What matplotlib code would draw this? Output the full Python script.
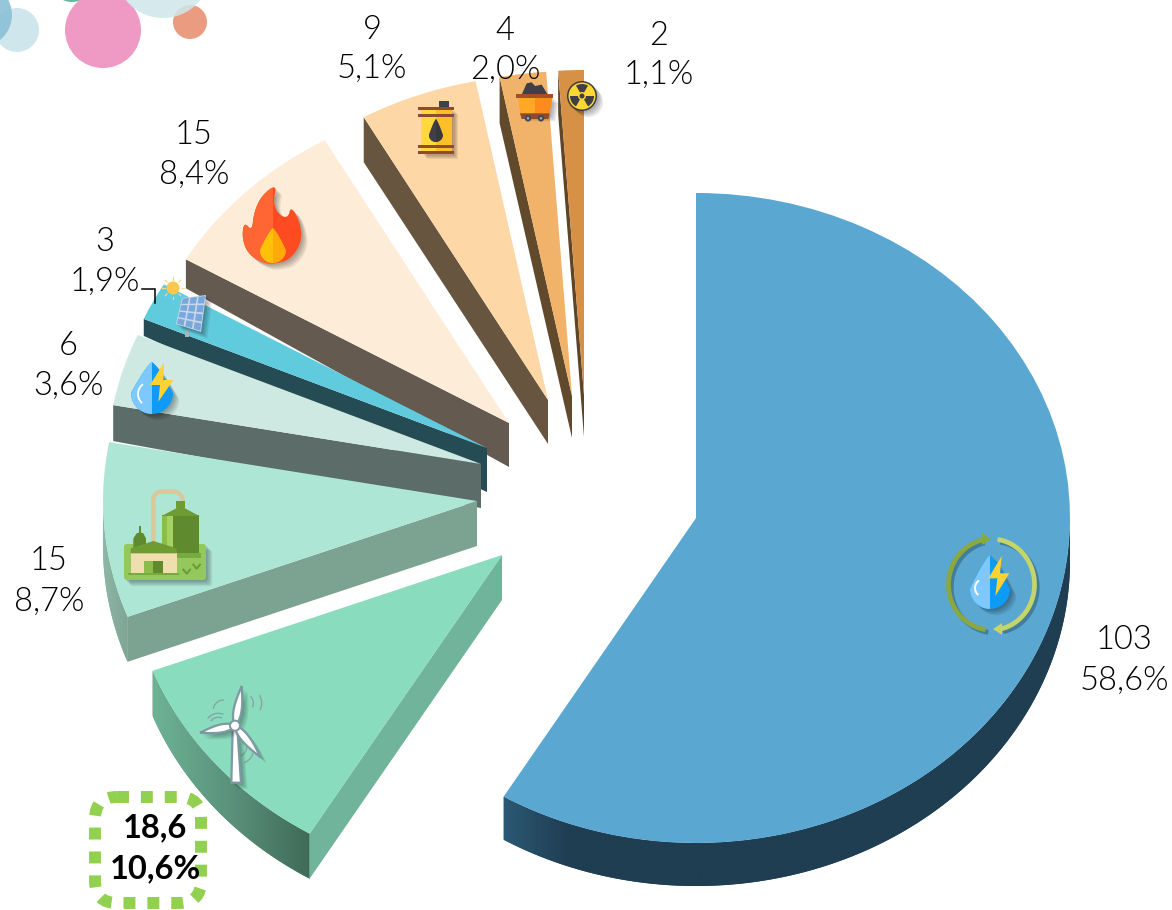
import numpy as np
import matplotlib
matplotlib.use("Agg")
import matplotlib.pyplot as plt
import matplotlib.patheffects as pe
from matplotlib.patches import Circle, FancyBboxPatch, Polygon, Rectangle, Wedge
from matplotlib.colors import to_rgb

# ---------- data ----------
sources = ["Hydro", "Wind", "Biomass", "Small hydro", "Solar", "Gas", "Oil", "Coal", "Nuclear"]
capacity = ["103", "18,6", "15", "6", "3", "15", "9", "4", "2"]
share = [58.6, 10.6, 8.7, 3.6, 1.9, 8.4, 5.1, 2.0, 1.1]
share_labels = ["58,6%", "10,6%", "8,7%", "3,6%", "1,9%", "8,4%", "5,1%", "2,0%", "1,1%"]

# ---------- styles / layout ----------
W, H = 1172, 910
CX, CY, RX, RY = 696, 518, 374, 325
face_colors = ["#5aa7d2", "#89dcbd", "#aee6d5", "#cde9e1", "#60cbdc", "#fdecd8", "#fdd7a6", "#f1b36a", "#d69146"]
wall_colors = [None, "#70b59b", "#7ca392", "#5c6c68", "#254c55", "#645a50", "#675540", "#614a2b", "#5e4526"]
apex_px = [(696, 518), (502, 555), (477, 501), (481, 464), (487, 448), (509, 423), (548, 400), (572, 396), (584, 395)]
depth_apex = [45, 45, 45, 44, 44, 44, 44, 42, 42]
depth_outer = [43, 45, 45, 36, 17, 29, 45, 46, 44]
z_order = [9, 8, 7, 6, 5, 4, 3, 2, 1]
arc_stops = {0: ["#2b5873", "#1f3e52", "#1f3e52", "#1f3e52", "#1f3e52", "#1f3e52", "#1f3e52", "#1f3e52", "#1f3e52", "#1f3e52"],
             1: ["#6db396", "#5a917a", "#3f6a58"],
             2: ["#8eb8a8", "#86ad9d", "#7fa595"]}
label_pos = [(1124, 640, 681), (155, 828, 869), (49, 561, 602), (68, 346, 386), (105, 242, 282),
             (194, 135, 175), (372, 30, 69), (505, 31, 70), (659, 36, 75)]

plt.rcParams["font.family"] = ["Lato", "DejaVu Sans"]
fig = plt.figure(figsize=(W / 100, H / 100), dpi=100, facecolor="white")

# ---------- pie (1 data unit = the ellipse radius) ----------
ax = fig.add_axes([0, 0, 1, 1])
wedges, _ = ax.pie(share, colors=face_colors, startangle=90, counterclock=False, radius=1,
                   wedgeprops=dict(linewidth=0))
ax.set_aspect("auto")
XL = ((0 - CX) / RX, (W - CX) / RX)
YL = ((CY - H) / RY, (CY - 0) / RY)


def gradient(stops):
    rgb = np.array([to_rgb(c) for c in stops])
    pos = np.linspace(0, 1, len(stops))
    s = np.linspace(0, 1, 256)
    return np.dstack([np.interp(s, pos, rgb[:, k]) for k in range(3)])


for i, w in enumerate(wedges):
    ox = (apex_px[i][0] - CX) / RX
    oy = (CY - apex_px[i][1]) / RY
    w.set_center((ox, oy))
    w.set_zorder(z_order[i] + 0.5)
    da, do = depth_apex[i] / RY, depth_outer[i] / RY
    # radial wall along the clockwise-start edge of the slice
    if wall_colors[i]:
        t = np.radians(w.theta2)
        px, py = ox + np.cos(t), oy + np.sin(t)
        ax.add_patch(Polygon([(ox, oy), (px, py), (px, py - do), (ox, oy - da)], closed=True,
                             facecolor=wall_colors[i], edgecolor="none", zorder=z_order[i] + 0.2))
    # outer curved wall on the lower half of the ellipse, shaded along x
    if i in arc_stops:
        th = np.radians(np.linspace(w.theta1, w.theta2, 240))
        th = th[np.sin(th) <= 0.001]
        xs, ys = ox + np.cos(th), oy + np.sin(th)
        pts = np.r_[np.c_[xs, ys], np.c_[xs[::-1], ys[::-1] - do]]
        base = Polygon(pts, closed=True, facecolor=arc_stops[i][len(arc_stops[i]) // 2], edgecolor="none",
                       zorder=z_order[i] + 0.05)
        ax.add_patch(base)
        im = ax.imshow(gradient(arc_stops[i]), extent=(xs.min(), xs.max(), ys.min() - do, ys.max()),
                       aspect="auto", zorder=z_order[i] + 0.1, interpolation="bilinear")
        clip = Polygon(pts, closed=True, transform=ax.transData)
        im.set_clip_path(clip)
ax.set_xlim(*XL)
ax.set_ylim(*YL)
ax.set_aspect("auto")
ax.axis("off")

# ---------- overlay in pixel coordinates ----------
ov = fig.add_axes([0, 0, 1, 1], facecolor="none")
ov.set_xlim(0, W)
ov.set_ylim(H, 0)
ov.axis("off")

SH = [pe.SimplePatchShadow(offset=(d, -d), shadow_rgbFace="k", alpha=0.07) for d in (4.5, 3.6, 2.7, 1.8, 1.0)] + [pe.Normal()]


def smooth(pts, n=2):
    p = np.asarray(pts, float)
    for _ in range(n):
        q = np.roll(p, -1, axis=0)
        p = np.c_[0.75 * p + 0.25 * q, 0.25 * p + 0.75 * q].reshape(-1, 2)
    return p


def poly(pts, color, z=20, shadow=False, clip=None, **kw):
    p = Polygon(pts, closed=True, facecolor=color, edgecolor="none", zorder=z, **kw)
    ov.add_patch(p)
    if shadow:
        p.set_path_effects(SH)
    if clip is not None:
        r = Rectangle((clip[0], clip[1]), clip[2], clip[3], transform=ov.transData)
        p.set_clip_path(r)
    return p


def rect(x0, y0, x1, y1, color, z=20):
    return poly([(x0, y0), (x1, y0), (x1, y1), (x0, y1)], color, z)


def drop_pts(cx, cy, r, top):
    ys = np.linspace(top, cy, 30)
    hw = r * ((ys - top) / (cy - top)) ** 0.8
    a = np.linspace(0, np.pi, 40)
    return np.r_[np.c_[cx + hw, ys], np.c_[cx + r * np.cos(a), cy + r * np.sin(a)], np.c_[cx - hw[::-1], ys[::-1]]]


def drop(cx, cy, r, top, cl, cr, z=20, shadow=True):
    pts = drop_pts(cx, cy, r, top)
    poly(pts, cr, z, shadow=shadow)
    poly(pts, cl, z + 0.1, clip=(cx - 2 * r, top - 2, 2 * r, 3 * (cy - top + r)))


def tr(ox, oy, pts, s=3.0):
    return [(ox + a / s, oy + b / s) for a, b in pts]


# decorative circles
for (x, y, r, c, a, z) in [(72, -20, 22, "#64b99b", 1, 1), (17, 30, 22, "#cfe7ec", 1, 1), (-20, 15, 32, "#8fc3d8", 0.95, 2),
                           (103, 30, 38, "#ee9ac5", 1, 2), (190, 22, 17, "#eb9c80", 1, 1),
                           (163, -30, 48, "#cfe7ec", 0.85, 2)]:
    ov.add_patch(Circle((x, y), r, facecolor=c, alpha=a, edgecolor="none", zorder=z))

# hydro icon (large slice)
drop(990, 589, 20, 555, "#7cc8ff", "#0d9bf5")
poly(tr(920, 510, [(245, 138), (205, 205), (232, 205), (226, 258), (268, 190), (240, 190)]), "#ffd233", 21)
a = np.radians(np.linspace(130, 225, 15))
ov.plot(984 + 9 * np.cos(a), 588 - 9 * np.sin(a), color="white", lw=1.4, zorder=22)
for ang, col in [(np.linspace(103, 262, 60), "#8aa83f"), (np.linspace(82, -78, 60), "#c4d56a")]:
    t = np.radians(ang)
    line = ov.plot(991.5 + 43 * np.cos(t), 584.5 - 45.5 * np.sin(t), color=col, lw=3.4, zorder=20,
                   solid_capstyle="butt")[0]
    line.set_path_effects([pe.SimpleLineShadow(offset=(2, -2), alpha=0.25), pe.Normal()])
poly([(982, 533), (982, 545), (991, 539)], "#8aa83f", 21)
poly([(1002, 623), (1002, 635), (993, 629)], "#c4d56a", 21)

# wind turbine
TF, TE = "white", "#7d99a3"
ov.add_patch(Polygon(tr(70, 660, [(488, 205), (502, 205), (513, 368), (484, 368)]), closed=True, facecolor=TF,
                     edgecolor=TE, lw=1.6, zorder=20, path_effects=SH))
for bx, by in [(515, 78), (390, 218), (572, 292)]:
    hx, hy = 495, 197
    d = np.array([bx - hx, by - hy], float)
    n = np.array([-d[1], d[0]]) / np.hypot(*d)
    s = np.linspace(0, 1, 24)
    wd = 12 * np.sin(np.pi * s ** 0.7)
    up = np.c_[hx + d[0] * s + n[0] * wd, hy + d[1] * s + n[1] * wd]
    lo = np.c_[hx + d[0] * s - n[0] * wd, hy + d[1] * s - n[1] * wd]
    ov.add_patch(Polygon(tr(70, 660, np.r_[up, lo[::-1]].tolist()), closed=True, facecolor=TF, edgecolor=TE,
                         lw=1.6, zorder=21, path_effects=SH))
ov.add_patch(Circle((70 + 495 / 3, 660 + 197 / 3), 5, facecolor="white", edgecolor=TE, lw=1.4, zorder=22))
for cx0, cy0, r0, a0, a1 in [(445, 200, 40, 70, 140), (445, 200, 28, 70, 140), (460, 150, 30, 90, 170),
                             (520, 130, 30, -20, 40), (530, 130, 45, -25, 30), (500, 260, 30, -60, 20), (510, 270, 40, -70, -10)]:
    t = np.radians(np.linspace(a0, a1, 20))
    ov.plot(70 + (cx0 + r0 * np.cos(t)) / 3, 660 + (cy0 - r0 * np.sin(t)) / 3, color="#8aa5a5", lw=1.0, zorder=19)

# biomass plant (zoom coordinates -> px)
B = lambda pts: tr(90, 470, pts)
ov.add_patch(FancyBboxPatch((124, 544), 82, 36, boxstyle="round,pad=0,rounding_size=3", facecolor="#93c85c",
                            edgecolor="none", zorder=20, path_effects=SH))
t = np.linspace(0, np.pi / 2, 20)
pipe_x = np.r_[[190, 190], 215 - 25 * np.cos(t), 250 + 28 * np.sin(t)]
pipe_y = np.r_[[215, 90], 90 - 25 * np.sin(t), 65 + 27 * (1 - np.cos(t))]
ov.plot(90 + pipe_x / 3, 470 + pipe_y / 3, color="#dcc79b", lw=3.2, zorder=20.5)
poly(B([(258, 92), (285, 92), (285, 115), (258, 115)]), "#6f9b33", 21)
poly(B([(215, 135), (328, 135), (328, 262), (215, 262)]), "#5f8a2d", 21)
poly(B([(215, 138), (250, 138), (250, 262), (215, 262)]), "#8bbd4a", 21.1)
poly(B([(232, 138), (250, 138), (250, 250), (232, 250)]), "#a6d163", 21.2)
poly(B([(215, 138), (272, 108), (328, 138)]), "#6f9b33", 21.3)
poly(B([(215, 250), (332, 250), (332, 265), (215, 265)]), "#7aa93f", 21.3)
poly(B([(130, 240), (130, 205), (140, 190), (147, 188), (147, 168), (153, 168), (153, 188), (160, 190), (168, 205), (168, 240)]), "#5f8a2d", 21)
poly(B([(122, 250), (260, 250), (260, 310), (122, 310)]), "#f0dfae", 21.5)
poly(B([(122, 250), (122, 235), (190, 213), (260, 235), (260, 250)]), "#6f9b33", 21.6)
poly(B([(162, 272), (220, 272), (220, 310), (162, 310)]), "#8bbd4a", 21.6)
poly(B([(190, 272), (220, 272), (220, 310), (190, 310)]), "#5f8a2d", 21.7)
poly(B([(114, 309), (268, 309), (268, 316), (114, 316)]), "#7aa93f", 21.8)
for vx, vy in [(290, 305), (320, 290)]:
    xs = np.array([vx - 10, vx, vx + 10])
    ys = np.array([vy - 6, vy + 6, vy - 6])
    ov.plot(90 + xs / 3, 470 + ys / 3, color="#6f9b33", lw=1.5, zorder=21)

# small hydro
drop(152, 393, 21, 362, "#7cc8ff", "#0d9bf5")
poly(tr(0, 220, [(492, 428), (450, 495), (480, 495), (475, 545), (520, 480), (490, 480)]), "#ffd233", 21)
a = np.radians(np.linspace(130, 225, 15))
ov.plot(150 + 12 * np.cos(a), 394 - 12 * np.sin(a), color="white", lw=1.3, zorder=22)

# solar
corners = np.array([(182, 298), (206, 295), (201, 332), (176, 324)], float)
poly(tr(0, 220, [(555, 330), (568, 330), (568, 350), (555, 350)]), "#a9b4bd", 19)
poly(corners, "#c8d9ec", 20, shadow=True)


def bil(u, v):
    return (1 - v) * ((1 - u) * corners[0] + u * corners[1]) + v * ((1 - u) * corners[3] + u * corners[2])


for cu in range(3):
    for cv in range(4):
        u0, u1 = (cu + 0.1) / 3, (cu + 0.9) / 3
        v0, v1 = (cv + 0.1) / 4, (cv + 0.9) / 4
        poly([bil(u0, v0), bil(u1, v0), bil(u1, v1), bil(u0, v1)], "#7aa8dc", 21)
ov.add_patch(Circle((173, 288), 6.5, facecolor="#fcc84a", edgecolor="none", zorder=21))
for ang in np.arange(0, 360, 45):
    t = np.radians(ang)
    ov.plot([173 + 8.5 * np.cos(t), 173 + 11 * np.cos(t)], [288 + 8.5 * np.sin(t), 288 + 11 * np.sin(t)],
            color="#f7d98a", lw=0.9, zorder=21)
ov.plot([142, 155, 155], [289, 289, 303], color="black", lw=1.1, zorder=22, solid_joinstyle="miter")

# flame
fl = [(277, 184), (262, 195), (254, 212), (252, 231), (244, 222), (242, 238), (248, 254), (263, 263), (273, 264),
      (290, 260), (302, 242), (300, 222), (291, 206), (288, 218), (279, 215), (273, 203)]
fl = smooth(fl, 2)
poly(fl, "#ff4b21", 20, shadow=True)
poly(fl, "#ff6634", 20.1, clip=(240, 180, 33, 90))
drop(273, 250, 13, 228, "#ffc107", "#ffa90a", z=21, shadow=False)

# oil barrel
rect(439, 101, 449, 108, "#414248", 19.5)
poly([(421, 108), (452, 108), (452, 153), (421, 153)], "#fbbf27", 20, shadow=True)
rect(421, 108, 436, 153, "#ffd93b", 20.1)
for y0 in (107, 114, 145, 151):
    rect(418, y0, 454, y0 + 3, "#8f4b2f", 20.5)
drop(436, 135, 7, 119, "#3f4046", "#37383d", z=21, shadow=False)

# coal cart
poly(tr(340, 0, [(545, 284), (560, 250), (575, 247), (585, 258), (605, 254), (622, 282)]), "#3f4046", 20)
poly(tr(340, 0, [(535, 290), (638, 290), (628, 345), (542, 345)]), "#ff8a1e", 20.5, shadow=True)
poly(tr(340, 0, [(535, 290), (585, 290), (585, 345), (542, 345)]), "#ffa726", 20.6)
poly(tr(340, 0, [(528, 282), (638, 282), (638, 294), (528, 294)]), "#a34f2c", 21)
poly(tr(340, 0, [(540, 340), (628, 340), (625, 357), (545, 357)]), "#8d4a30", 21)
for wx in (564, 603):
    ov.add_patch(Circle((340 + wx / 3, 355 / 3), 3.2, facecolor="#3f4a55", edgecolor="none", zorder=22))
    ov.add_patch(Circle((340 + wx / 3, 355 / 3), 1.2, facecolor="#a9b4bd", edgecolor="none", zorder=22.1))

# nuclear
ov.add_patch(Circle((582, 96), 15, facecolor="#3b3b3b", edgecolor="none", zorder=20, path_effects=SH))
ov.add_patch(Circle((582, 96), 13.5, facecolor="#fdd835", edgecolor="none", zorder=20.5))
for a0 in (-120, 0, 120):
    ov.add_patch(Wedge((582, 96), 12, a0, a0 + 60, facecolor="#3f3f44", edgecolor="none", zorder=21))
ov.add_patch(Circle((582, 96), 4, facecolor="#fdd835", edgecolor="none", zorder=21.5))
ov.add_patch(Circle((582, 96), 2.5, facecolor="#3f3f44", edgecolor="none", zorder=21.6))

# highlighted value box
ov.add_patch(FancyBboxPatch((95, 797), 106, 106, boxstyle="round,pad=0,rounding_size=22", facecolor="none",
                            edgecolor="#92d14f", lw=8.6, linestyle=(0, (1.0, 1.0)), zorder=15, capstyle="butt"))

# labels
for i, (x, y1, y2) in enumerate(label_pos):
    wt = "bold" if sources[i] == "Wind" else 300
    fs = 23.5
    ov.text(x, y1, capacity[i], ha="center", va="center", fontsize=fs, color="black", fontweight=wt, zorder=30)
    ov.text(x, y2, share_labels[i], ha="center", va="center", fontsize=fs, color="black", fontweight=wt, zorder=30)

fig.savefig("out.png", dpi=100, facecolor="white")
